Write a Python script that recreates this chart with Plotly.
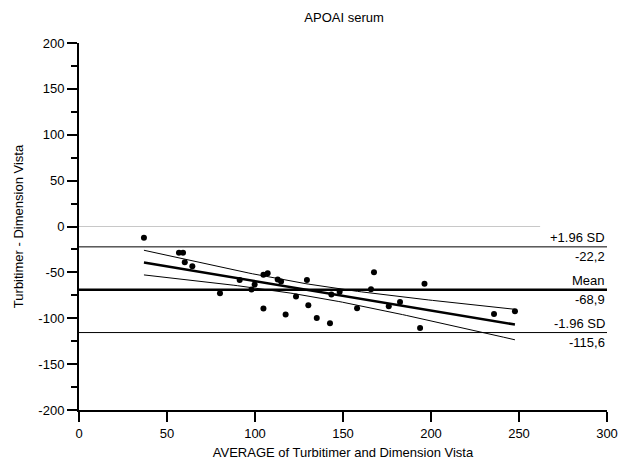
import numpy as np
import plotly.graph_objects as go

# Data
avg_values = [36.9, 56.8, 59.1, 60.1, 64.4, 80.1, 91.3, 98.0, 99.8, 104.8, 107.2,
              104.8, 112.9, 114.8, 117.4, 123.3, 129.5, 130.3, 135.1, 142.6, 143.4,
              148.1, 158.0, 165.9, 167.6, 176.0, 182.4, 193.8, 196.3, 235.8, 247.7]
diff_values = [-12.3, -28.6, -28.6, -38.9, -43.3, -72.7, -58.2, -68.7, -63.3, -52.7, -50.9,
               -89.4, -57.8, -60.0, -96.0, -76.3, -58.2, -85.8, -99.6, -105.4, -74.2,
               -71.0, -89.2, -68.4, -49.8, -87.0, -82.2, -110.5, -62.5, -95.3, -92.4]
mean_diff = -68.9
upper_loa = -22.2
lower_loa = -115.6
ref_labels_above = ["+1.96 SD", "Mean", "-1.96 SD"]
ref_labels_below = ["-22,2", "-68,9", "-115,6"]
ref_values = [upper_loa, mean_diff, lower_loa]
x_ticks = [0, 50, 100, 150, 200, 250, 300]
y_ticks = [-200, -150, -100, -50, 0, 50, 100, 150, 200]
y_tick_labels = ["-200", "-150", "-100", "-50", "0", "50", "100", "150", "200"]

x = np.array(avg_values)
y = np.array(diff_values)
n = len(x)
b, a = np.polyfit(x, y, 1)
xs = np.linspace(x.min(), x.max(), 100)
ys = a + b * xs
resid = y - (a + b * x)
s = np.sqrt(np.sum(resid ** 2) / (n - 2))
sxx = np.sum((x - x.mean()) ** 2)
t = 2.045
half = t * s * np.sqrt(1.0 / n + (xs - x.mean()) ** 2 / sxx)

FONT = "Liberation Sans, Arial, sans-serif"
FS = 13
fig = go.Figure()

# zero line
fig.add_trace(go.Scatter(x=[0, 262], y=[0, 0], mode="lines",
                         line=dict(color="#c8c8c8", width=1), hoverinfo="skip"))
# limits of agreement and mean
for v in ref_values:
    fig.add_trace(go.Scatter(x=[0, 300], y=[v, v], mode="lines",
                             line=dict(color="black", width=2.5 if v == mean_diff else 1),
                             hoverinfo="skip"))
# regression and CI
fig.add_trace(go.Scatter(x=xs, y=ys, mode="lines", line=dict(color="black", width=2.5)))
fig.add_trace(go.Scatter(x=xs, y=ys + half, mode="lines", line=dict(color="black", width=1)))
fig.add_trace(go.Scatter(x=xs, y=ys - half, mode="lines", line=dict(color="black", width=1)))
# points
fig.add_trace(go.Scatter(x=avg_values, y=diff_values, mode="markers",
                         marker=dict(color="black", size=6)))

for lab_a, lab_b, v in zip(ref_labels_above, ref_labels_below, ref_values):
    fig.add_annotation(x=300, y=v, xref="x", yref="y", text=lab_a, showarrow=False,
                       xanchor="right", yanchor="bottom", yshift=0,
                       font=dict(size=FS, color="black", family=FONT))
    fig.add_annotation(x=300, y=v, xref="x", yref="y", text=lab_b, showarrow=False,
                       xanchor="right", yanchor="top", yshift=0,
                       font=dict(size=FS, color="black", family=FONT))

fig.update_layout(
    width=620, height=462,
    margin=dict(l=79, r=13, t=43, b=52),
    paper_bgcolor="white", plot_bgcolor="white",
    showlegend=False,
    font=dict(family=FONT, size=FS, color="black"),
    title=dict(text="APOAI serum", x=0.555, xanchor="center", y=0.962, yanchor="middle",
               font=dict(size=FS, color="black", family=FONT)),
    xaxis=dict(range=[0, 300], tickvals=x_ticks, showgrid=False, zeroline=False,
               showline=True, linecolor="black", linewidth=2, automargin=False,
               ticks="outside", ticklen=10, tickwidth=2, tickcolor="black",
               title=dict(text="AVERAGE of Turbitimer and Dimension Vista", standoff=8,
                          font=dict(size=FS)),
               tickfont=dict(size=FS)),
    yaxis=dict(range=[-200, 200], tickvals=y_ticks, ticktext=y_tick_labels,
               showgrid=False, zeroline=False,
               showline=True, linecolor="black", linewidth=2, automargin=False,
               ticks="outside", ticklen=10, tickwidth=2, tickcolor="black",
               minor=dict(ticks="outside", ticklen=6, tickwidth=2, tickcolor="black",
                          dtick=25, showgrid=False),
               title=dict(text="Turbitimer - Dimension Vista", standoff=12,
                          font=dict(size=FS)),
               tickfont=dict(size=FS)),
)

fig.write_html("out.html", config={"displayModeBar": False},
               post_script="document.body.style.margin='0';document.body.style.padding='0';")
